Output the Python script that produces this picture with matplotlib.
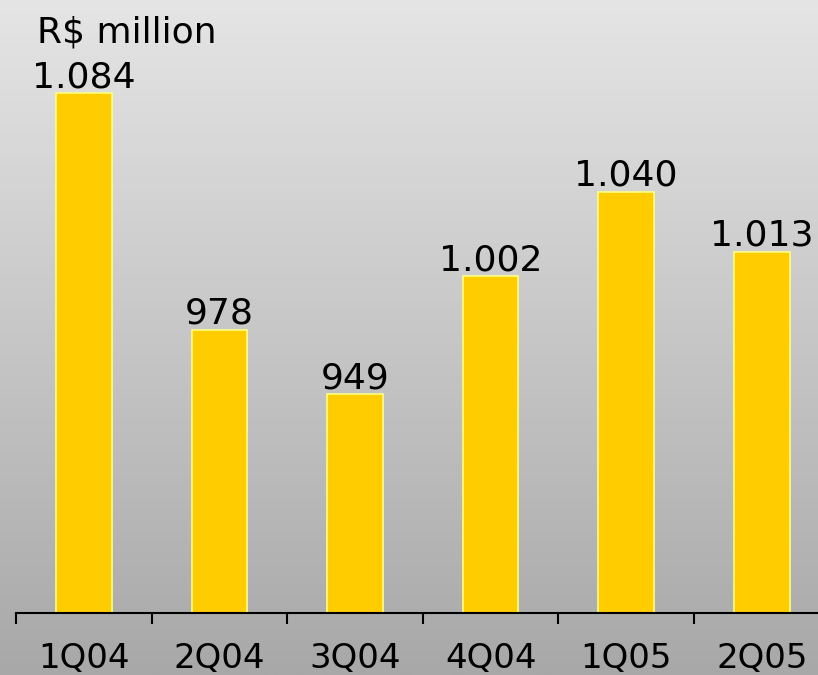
import matplotlib
matplotlib.use("Agg")
import matplotlib.pyplot as plt
import numpy as np
from matplotlib.colors import LinearSegmentedColormap

categories = ["1Q04", "2Q04", "3Q04", "4Q04", "1Q05", "2Q05"]
values = [1084, 978, 949, 1002, 1040, 1013]
value_labels = ["1.084", "978", "949", "1.002", "1.040", "1.013"]
unit_label = "R$ million"

W, H = 818, 675
fig = plt.figure(figsize=(W / 100, H / 100), dpi=100)

# gradient background
bg = fig.add_axes([0, 0, 1, 1])
grad = np.linspace(0, 1, 256).reshape(-1, 1)
cmap = LinearSegmentedColormap.from_list("g", ["#e5e5e5", "#a8a8a8"])
bg.imshow(grad, aspect="auto", cmap=cmap, extent=[0, 1, 0, 1], origin="upper")
bg.axis("off")

base_px = 613
left_px = 16
step_px = 135.6
ax = fig.add_axes([left_px / W, 1 - base_px / H, 6 * step_px / W, base_px / H])
ax.patch.set_alpha(0)
x = np.arange(len(categories))
ax.bar(x, values, width=0.41, color="#FFCC00", edgecolor="#FFFF80", linewidth=1.2, bottom=0)
ax.set_xlim(-0.5, len(categories) - 0.5)
ax.set_ylim(851, 851 + base_px / 2.23)
for s in ["top", "right", "left"]:
    ax.spines[s].set_visible(False)
ax.spines["bottom"].set_color("black")
ax.spines["bottom"].set_linewidth(1.5)
ax.set_yticks([])
ax.set_xticks(np.arange(len(categories) + 1) - 0.5, minor=False)
ax.set_xticklabels([])
ax.tick_params(axis="x", which="major", length=8, width=1.5, color="black", direction="out")
ax.set_xticks(x, minor=True)
ax.set_xticklabels(categories, minor=True, fontsize=24.5)
ax.tick_params(axis="x", which="minor", length=0, pad=21)

for xi, v, lab in zip(x, values, value_labels):
    ax.annotate(lab, (xi, v), xytext=(0, 4.5), textcoords="offset points",
                ha="center", va="baseline", fontsize=26)

fig.text(37 / W, 1 - 42 / H, unit_label, fontsize=26, ha="left", va="baseline")

fig.savefig("out.png", dpi=100)
